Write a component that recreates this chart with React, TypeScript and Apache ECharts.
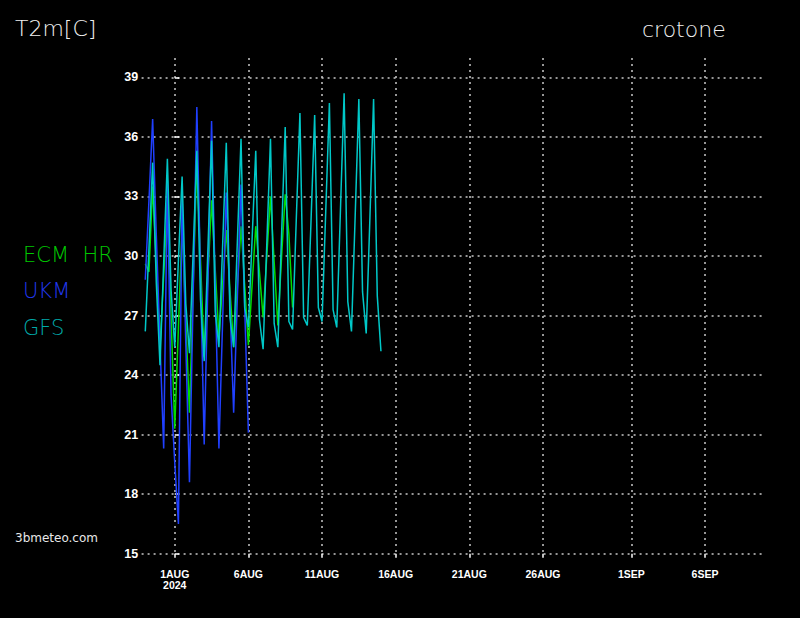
import React, { useEffect, useRef } from 'react';
import * as echarts from 'echarts';

// time axis in days from 2024-08-01 00 UTC, 6-hourly steps starting 30 Jul 00 UTC
const START_DAY = -2;
const STEP_DAYS = 0.25;
const X_MIN = -2.25;
const X_MAX = 40;

const ecmValues = [
  29.6, 29.2, 33.5, 29.6, 25.4, 29.0, 32.6, 27.0,
  21.3, 26.4, 31.5, 26.8, 22.1, 28.4, 34.8, 29.8,
  24.9, 28.9, 32.8, 29.3, 25.9, 28.6, 31.3, 28.3,
  25.4, 28.4, 31.5, 28.5, 25.5, 28.5, 31.5, 29.2,
  26.9, 30.0, 33.0, 29.7, 26.5, 29.9, 33.1, 31.1,
  27.4,
];

const ukmValues = [
  28.8, 32.8, 36.9, 31.0, 25.6, 20.3, 33.8, 23.0,
  19.6, 16.5, 33.0, 25.6, 18.6, 28.0, 37.5, 29.0,
  20.5, 28.6, 36.8, 28.5, 20.3, 26.7, 33.2, 27.6,
  22.1, 27.9, 33.6, 27.4, 21.1,
];

const gfsValues = [
  26.2, 30.4, 34.7, 28.6, 24.5, 29.7, 34.9, 28.3,
  25.4, 29.8, 34.0, 27.6, 25.1, 30.2, 35.3, 27.8,
  24.7, 30.3, 35.8, 27.2, 25.4, 30.5, 35.7, 26.9,
  25.4, 30.7, 35.9, 27.4, 26.4, 30.8, 35.3, 26.8,
  25.3, 30.6, 35.9, 26.6, 25.4, 31.0, 36.5, 26.7,
  26.3, 31.8, 37.2, 26.9, 26.5, 31.7, 37.1, 27.4,
  26.7, 32.2, 37.7, 27.3, 26.4, 32.3, 38.2, 27.7,
  26.2, 32.0, 37.9, 28.2, 26.1, 31.9, 37.9, 28.0,
  25.2,
];

const tickDays = [0, 5, 10, 15, 20, 25, 31, 36];
const tickLabels = ['1AUG\n2024', '6AUG', '11AUG', '16AUG', '21AUG', '26AUG', '1SEP', '6SEP'];

const Y_MIN = 15;
const Y_MAX = 39;
const Y_STEP = 3;

const seriesNames = ['ECM  HR', 'UKM', 'GFS'];
const lineColors = ['#00dd00', '#2040ff', '#00c8c8'];
const legendColors = ['#00c800', '#2038f0', '#00aaaa'];

const TITLE = 'T2m[C]';
const STATION = 'crotone';
const CREDIT = '3bmeteo.com';

const toPairs = (vals: number[]) => vals.map((v, i) => [START_DAY + i * STEP_DAYS, v]);

const GRID_L = 141.6;
const GRID_R = 800 - 763.9;
const GRID_B = 618 - 553.7;
const gridDot = { color: '#c8c8c8', type: [2, 4] as number[], width: 1.5 };
const axisFont = '"Liberation Sans Narrow", "Arial Narrow", "Liberation Sans", sans-serif';
const thinFont = '"DejaVu Sans", sans-serif';

export default function App() {
  const ref = useRef<HTMLDivElement>(null);
  useEffect(() => {
    if (!ref.current) return;
    const chart = echarts.init(ref.current, undefined, { renderer: 'svg' });
    const allValues = [ecmValues, ukmValues, gfsValues];
    chart.setOption({
      animation: false,
      backgroundColor: '#000000',
      grid: [
        { left: GRID_L, right: GRID_R, top: 58, bottom: GRID_B },
        { left: GRID_L, right: GRID_R, top: 77.3, bottom: GRID_B },
      ],
      xAxis: [
        {
          gridIndex: 0,
          type: 'value',
          min: X_MIN,
          max: X_MAX,
          offset: 9,
          axisLine: { show: false },
          axisTick: {
            show: true,
            length: 4,
            customValues: tickDays,
            lineStyle: { color: '#ffffff', width: 1.5 },
          },
          axisLabel: {
            customValues: tickDays,
            formatter: (v: number) => {
              const i = tickDays.indexOf(Math.round(v));
              return i >= 0 ? tickLabels[i] : '';
            },
            color: '#ffffff',
            fontFamily: axisFont,
            fontWeight: 'bold',
            fontSize: 10.5,
            lineHeight: 11,
            margin: 6,
            hideOverlap: false,
          },
          splitLine: { show: true, lineStyle: gridDot },
        },
        { gridIndex: 1, type: 'value', min: X_MIN, max: X_MAX, show: false },
      ],
      yAxis: [
        { gridIndex: 0, type: 'value', min: 0, max: 1, show: false },
        {
          gridIndex: 1,
          type: 'value',
          min: Y_MIN,
          max: Y_MAX,
          interval: Y_STEP,
          axisLine: { show: false },
          axisTick: { show: true, inside: true, length: 4.5, lineStyle: { color: '#ffffff', width: 1.5 } },
          axisLabel: {
            color: '#ffffff',
            fontFamily: axisFont,
            fontWeight: 'bold',
            fontSize: 12.5,
            margin: 3.5,
          },
          splitLine: { show: true, lineStyle: gridDot },
        },
      ],
      series: seriesNames.map((name, k) => ({
        name,
        type: 'line',
        xAxisIndex: 1,
        yAxisIndex: 1,
        data: toPairs(allValues[k]),
        showSymbol: false,
        symbol: 'none',
        silent: true,
        lineStyle: { color: lineColors[k], width: 1.5 },
        z: 3 + k,
      })),
      graphic: [
        {
          type: 'text',
          left: 15,
          top: 17.5,
          style: { text: TITLE, font: `200 22px ${thinFont}`, fill: '#f0f0f0' },
        },
        {
          type: 'text',
          left: 642,
          top: 18.5,
          style: { text: STATION, font: `200 22px ${thinFont}`, fill: '#f0f0f0' },
        },
        ...seriesNames.map((name, k) => ({
          type: 'text',
          left: 23,
          top: 244.5 + k * 36.4,
          style: { text: name, font: `200 21px ${thinFont}`, fill: legendColors[k] },
        })),
        {
          type: 'text',
          left: 15,
          top: 531.5,
          style: { text: CREDIT, font: `12px ${thinFont}`, fill: '#e8e8e8' },
        },
      ],
    });
    return () => chart.dispose();
  }, []);
  return (
    <div
      ref={ref}
      style={{ position: 'fixed', left: 0, top: 0, width: 800, height: 618, background: '#000' }}
    />
  );
}
